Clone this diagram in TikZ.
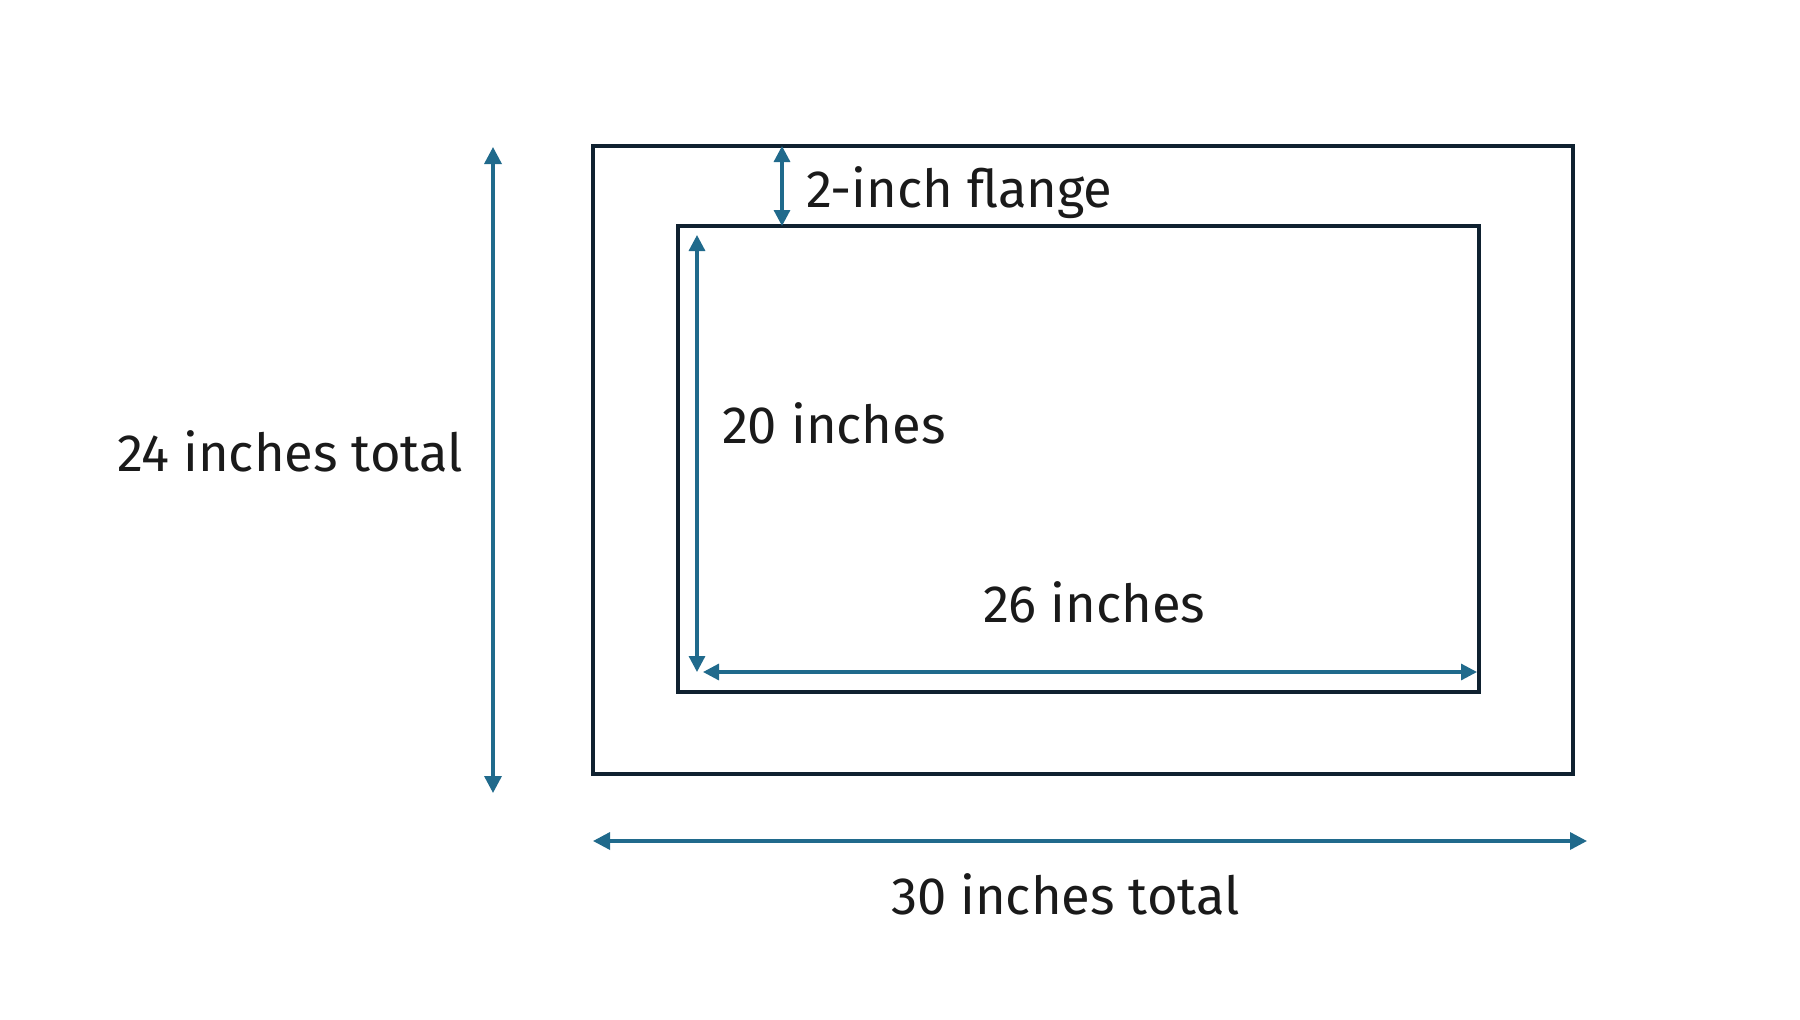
\documentclass[tikz,border=0pt]{standalone}
\usepackage{fontspec}
\setmainfont{Fira Sans}
\usetikzlibrary{arrows.meta}
\definecolor{rectcol}{HTML}{0F2130}
\definecolor{arrcol}{HTML}{206A8C}
\definecolor{txtcol}{HTML}{1A1A1A}
\begin{document}
\begin{tikzpicture}[x=1pt,y=-1pt,
  frame/.style={draw=rectcol,line width=3.8pt,inner sep=0pt,outer sep=0pt,fill=none},
  dimarrow/.style={draw=arrcol,line width=3.4pt,{Triangle[width=17pt,length=17pt]}-{Triangle[width=17pt,length=17pt]}},
  smallarrow/.style={draw=arrcol,line width=3.2pt,{Triangle[width=16pt,length=16pt]}-{Triangle[width=16pt,length=16pt]}},
  label/.style={inner sep=0pt,outer sep=0pt,anchor=base west,text=txtcol,font=\fontsize{52.5}{62}\selectfont}]
\useasboundingbox[fill=white] (0,0) rectangle (1800,1020);
% rectangles
\draw[frame] (593,146) rectangle (1573,774);
\draw[frame] (678,226) rectangle (1479,692);
\coordinate (outerTop) at (782,146);
\coordinate (innerTop) at (782,226);
% arrow end points
\coordinate (lt) at (493,147);
\coordinate (lb) at (493,793);
\coordinate (ivt) at (697,235);
\coordinate (ivb) at (697,672);
\coordinate (ihl) at (703,672);
\coordinate (ihr) at (1477,672);
\coordinate (bl) at (593,841);
\coordinate (br) at (1587,841);
% arrows
\draw[dimarrow] (lt) -- (lb);
\draw[dimarrow] (bl) -- (br);
\draw[smallarrow] (outerTop) -- (innerTop);
\draw[smallarrow] (ivt) -- (ivb);
\draw[smallarrow] (ihl) -- (ihr);
% labels
\node[label] (t24) at (117,471) {24 inches total};
\node[label] (t20) at (722,443) {20 inches};
\node[label] (t26) at (983,622) {26 inches};
\node[label] (tfl) at (806,207) {2-inch flange};
\node[label] (t30) at (891,914) {30 inches total};
\end{tikzpicture}
\end{document}
